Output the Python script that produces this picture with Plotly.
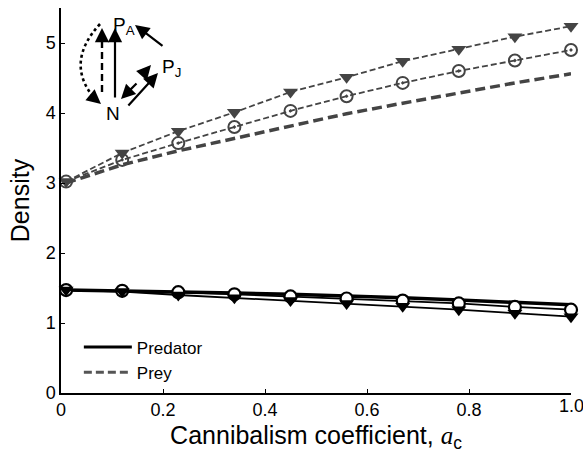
import plotly.graph_objects as go

# ---- data ----
a_c = [0.01, 0.12, 0.23, 0.34, 0.45, 0.56, 0.67, 0.78, 0.89, 1.0]

prey_base = [3.00, 3.26, 3.46, 3.64, 3.82, 3.99, 4.14, 4.29, 4.43, 4.56]
prey_circ = [3.02, 3.33, 3.57, 3.80, 4.03, 4.24, 4.43, 4.60, 4.75, 4.90]
prey_tri = [3.02, 3.43, 3.74, 4.01, 4.30, 4.51, 4.74, 4.91, 5.09, 5.24]

pred_base = [1.47, 1.46, 1.45, 1.43, 1.41, 1.39, 1.36, 1.33, 1.30, 1.26]
pred_circ = [1.47, 1.46, 1.44, 1.41, 1.38, 1.35, 1.32, 1.28, 1.23, 1.19]
pred_tri = [1.47, 1.45, 1.40, 1.36, 1.32, 1.28, 1.24, 1.19, 1.14, 1.09]

x_ticks = [0, 0.2, 0.4, 0.6, 0.8, 1.0]
x_ticklabels = ["0", "0.2", "0.4", "0.6", "0.8", "1.0"]
y_ticks = [0, 1, 2, 3, 4, 5]

PREY = "#444444"
PRED = "#000000"
FONT = "Liberation Sans, Arial, sans-serif"
SERIF = "Liberation Serif, Times New Roman, serif"

fig = go.Figure()

# prey
fig.add_trace(go.Scatter(x=a_c, y=prey_base, mode="lines", showlegend=False,
                         line=dict(color=PREY, width=3.5, dash="10px,5px")))
fig.add_trace(go.Scatter(x=a_c, y=prey_circ, mode="lines+markers", showlegend=False,
                         line=dict(color=PREY, width=1.8, dash="6px,3px"),
                         marker=dict(symbol="circle-open-dot", size=12, color=PREY,
                                     line=dict(width=2, color=PREY))))
fig.add_trace(go.Scatter(x=a_c, y=prey_tri, mode="lines+markers", showlegend=False,
                         line=dict(color=PREY, width=1.8, dash="6px,3px"),
                         marker=dict(symbol="triangle-down", size=13, color=PREY)))

# predator
fig.add_trace(go.Scatter(x=a_c, y=pred_base, mode="lines", showlegend=False,
                         line=dict(color=PRED, width=3.5)))
fig.add_trace(go.Scatter(x=a_c, y=pred_circ, mode="lines+markers", showlegend=False,
                         line=dict(color=PRED, width=1.8),
                         marker=dict(symbol="circle", size=12, color="white",
                                     line=dict(width=2.2, color=PRED))))
fig.add_trace(go.Scatter(x=a_c, y=pred_tri, mode="lines+markers", showlegend=False,
                         line=dict(color=PRED, width=1.8),
                         marker=dict(symbol="triangle-down", size=13, color=PRED)))

# legend-only entries
fig.add_trace(go.Scatter(x=[None], y=[None], mode="lines", name="Predator",
                         line=dict(color=PRED, width=3)))
fig.add_trace(go.Scatter(x=[None], y=[None], mode="lines", name="Prey",
                         line=dict(color="#555555", width=3, dash="8px,4px")))

for tr in fig.data:
    tr.cliponaxis = False

# ---- inset food-web diagram (axis-domain coords from pixel positions) ----
L, R, T, B = 61, 571, 8, 393
W, H = R - L, B - T
XR, YR = "x domain", "y domain"


def px(xp):
    return (xp - L) / W


def py(yp):
    return (B - yp) / H


texts = [
    (111, 12, "P<sub>A</sub>"),
    (160, 54, "P<sub>J</sub>"),
    (113, 101, "N"),
]
for xp, yp, t in texts:
    fig.add_annotation(x=px(xp), y=py(yp), xref=XR, yref=YR, text=t,
                       xanchor="left" if t != "N" else "center",
                       showarrow=False, font=dict(size=19, family=FONT, color="black"))


def arrow(tx, ty, hx, hy):
    fig.add_annotation(x=px(hx), y=py(hy), ax=px(tx), ay=py(ty),
                       xref=XR, yref=YR, axref=XR, ayref=YR,
                       showarrow=True, arrowhead=2, arrowsize=1.3, arrowwidth=2.2,
                       arrowcolor="black", text="")


arrows = [
    (115, 99, 115, 28),
    (164, 47, 135, 25),
    (127, 107, 158, 73),
    (138, 82, 121, 99),
    (143, 74, 151, 65),
]
for a in arrows:
    arrow(*a)

# dashed vertical arrow
fig.add_shape(type="line", xref=XR, yref=YR,
              x0=px(102), y0=py(92), x1=px(102), y1=py(38),
              line=dict(color="black", width=2.4, dash="7px,4px"))
arrow(102, 38, 102, 28)

# dotted curved arrow
fig.add_shape(type="path", xref=XR, yref=YR,
              path=f"M {px(100)},{py(24)} Q {px(64)},{py(63)} {px(95)},{py(99)}",
              line=dict(color="black", width=2.6, dash="dot"))
arrow(95, 99, 101, 104)

# last x tick label (plotly hides it because it runs past the page edge,
# the reference shows it clipped)
fig.add_annotation(x=x_ticks[-1], y=0, xref="x", yref="y domain",
                   text=x_ticklabels[-1], showarrow=False,
                   xanchor="center", yanchor="top", yshift=-1,
                   font=dict(size=18, family=FONT, color="black"))

fig.update_layout(
    width=583, height=453,
    margin=dict(l=L, r=583 - R, t=T, b=453 - B),
    paper_bgcolor="white", plot_bgcolor="white",
    font=dict(family=FONT, size=18, color="black"),
    showlegend=True,
    legend=dict(x=0.035, y=0.165, xanchor="left", yanchor="top",
                bgcolor="rgba(0,0,0,0)", font=dict(size=17, family=FONT),
                tracegroupgap=0, itemwidth=48),
    xaxis=dict(range=[0, 1.0], tickvals=x_ticks, ticktext=x_ticklabels,
               automargin=False,
               showgrid=False, zeroline=False, showline=True, linecolor="black",
               linewidth=1.5, ticks="inside", ticklen=4, tickwidth=1.2,
               tickcolor="black", tickfont=dict(size=18),
               title=dict(text=("Cannibalism coefficient, "
                                f"<span style='font-family:{SERIF}'><i>a</i></span>"
                                "<sub>c</sub>"),
                          font=dict(size=25), standoff=8)),
    yaxis=dict(range=[0, 5.5], tickvals=y_ticks, automargin=False,
               showgrid=False, zeroline=False, showline=True, linecolor="black",
               linewidth=1.5, ticks="inside", ticklen=4, tickwidth=1.2,
               tickcolor="black", tickfont=dict(size=18),
               title=dict(text="Density", font=dict(size=25), standoff=9)),
)

fig.write_html("out.html")
